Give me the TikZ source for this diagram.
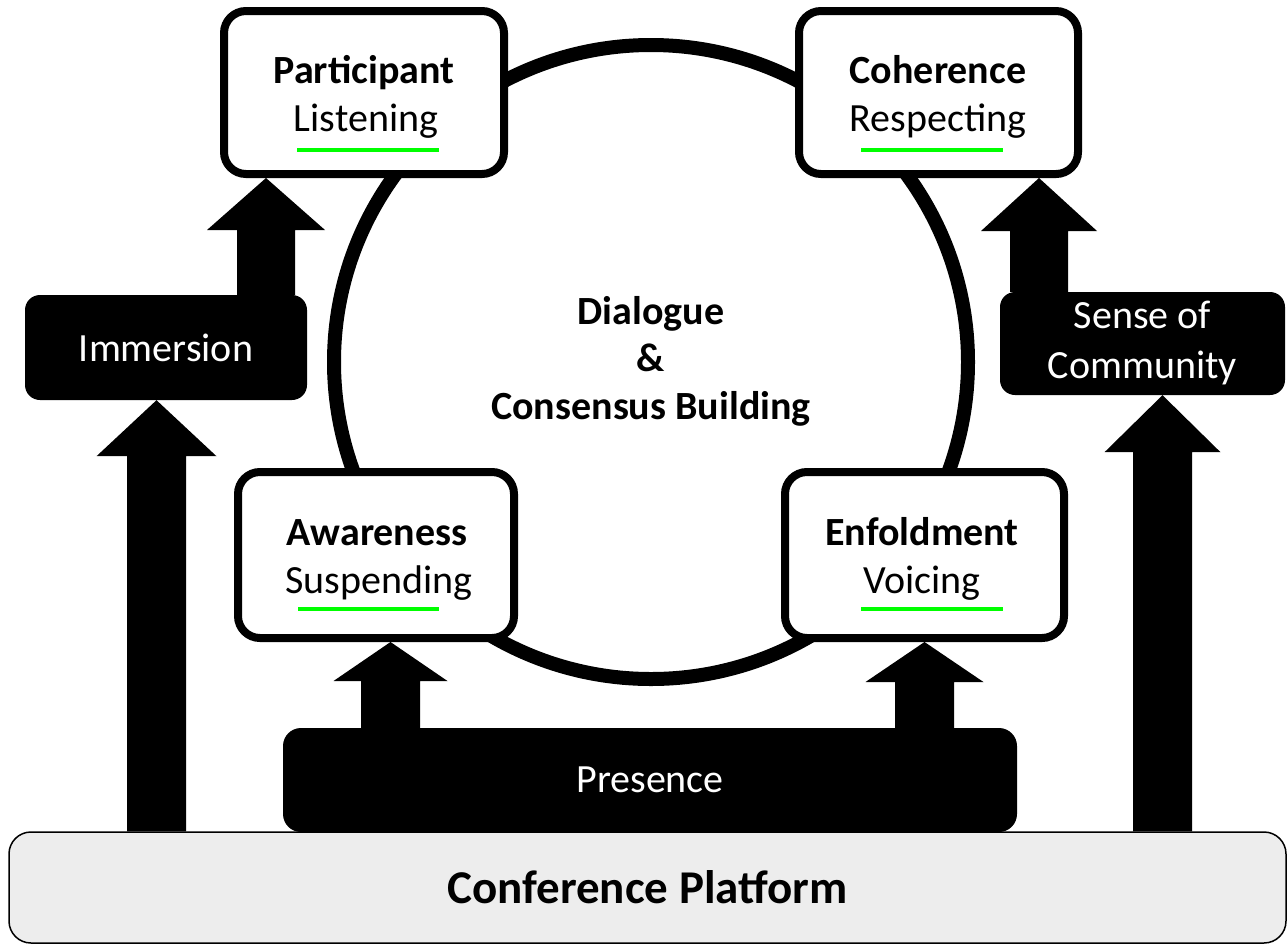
\documentclass[tikz,border=0pt]{standalone}
\usepackage{fontspec}
\setmainfont{Carlito}
\usetikzlibrary{calc}
\definecolor{ulgreen}{HTML}{00FF00}
\definecolor{platgray}{HTML}{EDEDED}
\newcommand\fatup[6]{%
  \fill let \p1=(#2), \p2=(#3) in
    (#1pt-#4pt,\y1) -- (#1pt-#4pt,\y2-#6pt) -- (#1pt-#5pt,\y2-#6pt) --
    (#1pt,\y2) -- (#1pt+#5pt,\y2-#6pt) -- (#1pt+#4pt,\y2-#6pt) --
    (#1pt+#4pt,\y1) -- cycle;}
\tikzset{
  whitebox/.style={draw=black, fill=white, line width=8pt, rounded corners=22pt, inner sep=0pt},
  blackbox/.style={fill=black, text=white, rounded corners=15pt, inner sep=0pt, align=center,
    font=\fontsize{40}{50}\selectfont},
  boldlbl/.style={anchor=base, inner sep=0pt, font=\fontsize{40}{48}\selectfont\bfseries},
  reglbl/.style={anchor=base, inner sep=0pt, font=\fontsize{40}{48}\selectfont},
  greenline/.style={draw=ulgreen, line width=3.5pt},
}
\begin{document}
\begin{tikzpicture}[x=1pt,y=-1pt]
\useasboundingbox[fill=white] (0,0) rectangle (1288,946);
% ring
\node[circle, draw=black, line width=14pt, minimum size=634pt, inner sep=0pt] (ring) at (651,362) {};
\node[font=\fontsize{40}{47.5}\selectfont\bfseries, align=center, inner sep=0pt] (dlg) at (651,361)
  {Dialogue\\\&\\Consensus Building};
% black boxes
\node[blackbox, minimum width=282pt, minimum height=105pt] (imm) at (166,347.5) {Immersion};
\node[blackbox, minimum width=285pt, minimum height=103pt] (soc) at (1142.5,343.5) {Sense of\\Community};
\node[blackbox, minimum width=734pt, minimum height=104pt, rounded corners=18pt] (pres) at (650,780) {Presence};
% white boxes
\node[whitebox, minimum width=280pt, minimum height=163pt] (pa) at (364,92.5) {};
\node[whitebox, minimum width=279pt, minimum height=163pt] (co) at (938.5,92.5) {};
\node[whitebox, minimum width=276pt, minimum height=166pt] (aw) at (376,555) {};
\node[whitebox, minimum width=279pt, minimum height=166pt] (en) at (924.5,555) {};
% platform
\node[draw=black, fill=platgray, line width=1.5pt, rounded corners=22pt, inner sep=0pt,
      minimum width=1277pt, minimum height=111pt,
      font=\fontsize{47}{56}\selectfont\bfseries] (plat) at (647.5,887.5) {Conference Platform};
% arrows
\fatup{266}{imm.north}{pa.south}{29}{59}{52}
\fatup{1039}{soc.north}{co.south}{29}{58}{53}
\fatup{156.5}{plat.north}{imm.south}{29.5}{60}{56}
\fatup{1162.5}{plat.north}{soc.south}{29.5}{58}{57}
\fatup{390.5}{pres.north}{aw.south}{29.5}{57}{39}
\fatup{924.5}{pres.north}{en.south}{29.5}{59}{40}
% box labels
\node[boldlbl] (pa-b) at (364,83) {Participant};
\node[reglbl]  (pa-r) at (366,131) {Listening};
\node[boldlbl] (co-b) at (938,83) {Coherence};
\node[reglbl]  (co-r) at (938,131) {Respecting};
\node[boldlbl] (aw-b) at (377,545) {Awareness};
\node[reglbl]  (aw-r) at (379,593) {Suspending};
\node[boldlbl] (en-b) at (922,545) {Enfoldment};
\node[reglbl]  (en-r) at (922,593) {Voicing};
% green underlines
\draw[greenline] (297,150) -- (439,150);
\draw[greenline] (861,150) -- (1003,150);
\draw[greenline] (298,609) -- (439,609);
\draw[greenline] (861,609) -- (1003,609);
\end{tikzpicture}
\end{document}
